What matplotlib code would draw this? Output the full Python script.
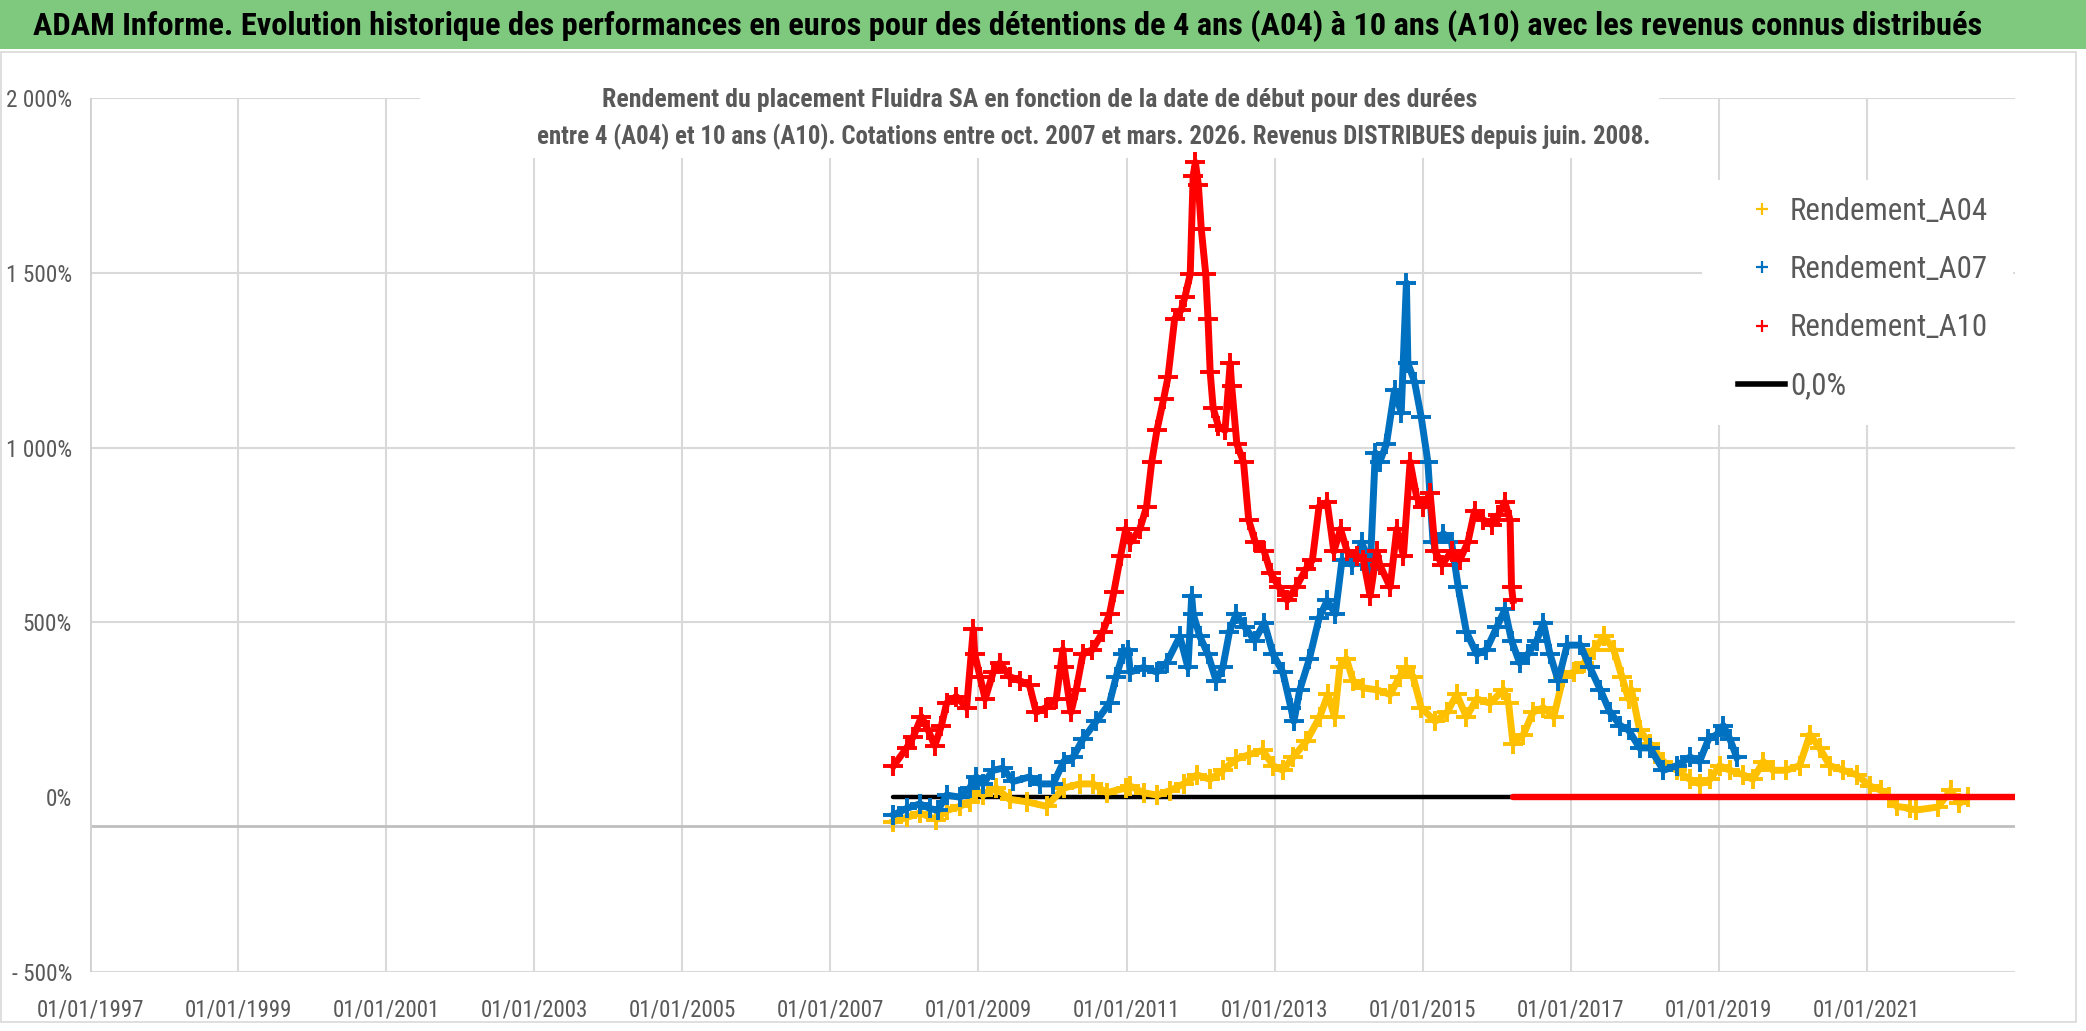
import matplotlib
matplotlib.use('Agg')
import matplotlib.pyplot as plt
from matplotlib import font_manager as fm
from matplotlib.patches import Rectangle
from matplotlib.lines import Line2D

# police etroite proche de Calibri si elle existe
family, stretch = 'DejaVu Sans', 'normal'
for name in ['Liberation Sans Narrow', 'Roboto Condensed', 'Open Sans Condensed', 'Noto Sans Condensed']:
    try:
        fm.findfont(fm.FontProperties(family=name), fallback_to_default=False)
        family = name
        break
    except ValueError:
        pass
if family == 'DejaVu Sans':
    if 'Condensed' in fm.findfont(fm.FontProperties(family='DejaVu Sans', stretch='condensed')):
        stretch = 'condensed'
plt.rcParams['font.family'] = [family, 'DejaVu Sans']
plt.rcParams['font.stretch'] = stretch

# dates de début (années décimales) et rendements en %
a04_x = [2007.85, 2008.03, 2008.21, 2008.43, 2008.57, 2008.75, 2008.88, 2008.97, 2009.06, 2009.24,
         2009.42, 2009.65, 2009.92, 2010.15, 2010.37, 2010.55, 2010.73, 2010.99, 2011.05, 2011.23,
         2011.41, 2011.59, 2011.77, 2011.95, 2012.13, 2012.30, 2012.48, 2012.66, 2012.84, 2012.98,
         2013.11, 2013.25, 2013.43, 2013.61, 2013.72, 2013.81, 2013.88, 2013.97, 2014.06, 2014.19,
         2014.38, 2014.56, 2014.69, 2014.78, 2014.87, 2014.98, 2015.17, 2015.33, 2015.46, 2015.59,
         2015.73, 2015.91, 2016.09, 2016.16, 2016.22, 2016.36, 2016.49, 2016.63, 2016.77, 2016.90,
         2017.04, 2017.18, 2017.31, 2017.45, 2017.58, 2017.69, 2017.78, 2017.82, 2017.93, 2018.07,
         2018.25, 2018.43, 2018.61, 2018.74, 2018.88, 2019.01, 2019.15, 2019.33, 2019.46, 2019.60,
         2019.73, 2019.91, 2020.09, 2020.23, 2020.36, 2020.50, 2020.68, 2020.86, 2021.04, 2021.19,
         2021.30, 2021.40, 2021.58, 2021.66, 2021.96, 2022.13, 2022.25, 2022.37]
a04_y = [-70, -58, -45, -64, -38, -26, -13, 19, 6, 26,
         -6, -13, -26, 26, 38, 38, 13, 26, 32, 13,
         6, 19, 38, 64, 51, 77, 109, 122, 134, 90,
         77, 115, 160, 230, 294, 230, 371, 396, 333, 313,
         307, 294, 345, 371, 345, 256, 217, 243, 294, 230,
         281, 269, 307, 269, 153, 179, 243, 256, 230, 345,
         358, 384, 422, 460, 422, 345, 281, 307, 192, 153,
         102, 77, 51, 38, 51, 90, 77, 64, 51, 102,
         77, 77, 90, 179, 141, 90, 77, 64, 32, 20,
         0, -26, -32, -37, -28, 20, -18, 0]

a07_x = [2007.85, 2008.03, 2008.21, 2008.34, 2008.45, 2008.57, 2008.75, 2008.88, 2008.97, 2009.06,
         2009.20, 2009.33, 2009.47, 2009.69, 2009.83, 2010.01, 2010.15, 2010.28, 2010.41, 2010.59,
         2010.77, 2010.86, 2010.95, 2011.02, 2011.05, 2011.23, 2011.41, 2011.54, 2011.72, 2011.83,
         2011.88, 2011.90, 2011.99, 2012.10, 2012.21, 2012.30, 2012.39, 2012.48, 2012.60, 2012.73,
         2012.86, 2012.98, 2013.11, 2013.22, 2013.26, 2013.34, 2013.47, 2013.60, 2013.71, 2013.82,
         2013.91, 2014.05, 2014.18, 2014.29, 2014.36, 2014.42, 2014.51, 2014.62, 2014.71, 2014.78,
         2014.80, 2014.89, 2014.98, 2015.07, 2015.14, 2015.28, 2015.39, 2015.48, 2015.59, 2015.73,
         2015.86, 2016.00, 2016.11, 2016.20, 2016.31, 2016.42, 2016.54, 2016.63, 2016.72, 2016.83,
         2016.95, 2017.13, 2017.26, 2017.40, 2017.53, 2017.67, 2017.78, 2017.93, 2018.07, 2018.25,
         2018.43, 2018.61, 2018.74, 2018.86, 2018.97, 2019.06, 2019.15, 2019.24]
a07_y = [-51, -32, -19, -32, -38, 6, 0, 26, 58, 38,
         77, 83, 45, 58, 38, 38, 102, 115, 166, 217,
         269, 345, 409, 422, 358, 371, 358, 384, 460, 371,
         575, 524, 460, 409, 333, 371, 473, 524, 486, 448,
         499, 409, 358, 256, 217, 307, 396, 512, 563, 524,
         678, 665, 729, 652, 985, 959, 1010, 1164, 1100, 1471,
         1241, 1189, 1087, 959, 729, 754, 729, 601, 473, 409,
         422, 486, 537, 448, 384, 409, 448, 499, 409, 333,
         435, 435, 371, 307, 243, 205, 192, 141, 141, 77,
         90, 115, 102, 166, 179, 205, 166, 115]

a10_x = [2007.85, 2008.03, 2008.12, 2008.23, 2008.32, 2008.41, 2008.50, 2008.57, 2008.70, 2008.84,
         2008.93, 2008.95, 2009.02, 2009.09, 2009.20, 2009.29, 2009.42, 2009.56, 2009.69, 2009.78,
         2009.91, 2010.05, 2010.14, 2010.16, 2010.25, 2010.32, 2010.41, 2010.54, 2010.68, 2010.77,
         2010.83, 2010.92, 2010.99, 2011.05, 2011.18, 2011.27, 2011.34, 2011.41, 2011.50, 2011.56,
         2011.65, 2011.74, 2011.79, 2011.86, 2011.90, 2011.93, 2011.97, 2012.01, 2012.07, 2012.10,
         2012.13, 2012.17, 2012.24, 2012.33, 2012.40, 2012.42, 2012.49, 2012.58, 2012.65, 2012.74,
         2012.86, 2012.95, 2013.06, 2013.17, 2013.29, 2013.42, 2013.51, 2013.60, 2013.71, 2013.80,
         2013.89, 2013.98, 2014.11, 2014.20, 2014.29, 2014.38, 2014.42, 2014.56, 2014.65, 2014.74,
         2014.83, 2014.92, 2015.01, 2015.10, 2015.17, 2015.26, 2015.39, 2015.50, 2015.61, 2015.70,
         2015.82, 2015.93, 2016.02, 2016.11, 2016.18, 2016.20, 2016.22]
a10_y = [89, 141, 173, 230, 192, 147, 205, 269, 288, 256,
         480, 409, 345, 281, 358, 384, 345, 333, 320, 243,
         256, 281, 422, 371, 243, 307, 409, 422, 473, 524,
         588, 691, 767, 729, 767, 831, 959, 1049, 1138, 1202,
         1369, 1394, 1432, 1496, 1778, 1816, 1752, 1624, 1496, 1369,
         1215, 1113, 1062, 1049, 1241, 1176, 1010, 959, 793, 729,
         703, 640, 601, 563, 601, 652, 678, 831, 844, 703,
         767, 703, 691, 678, 576, 703, 665, 601, 767, 691,
         959, 857, 831, 870, 703, 665, 703, 678, 729, 818,
         793, 780, 806, 844, 793, 601, 563]

# rendement nul : A10 au-dela de 2016, et serie de reference 0,0%
a10_zero_x = [2016.22, 2023.0]
a10_zero_y = [0, 0]
zero_x = [2007.85, 2023.0]
zero_y = [0, 0]

yticks = [2000, 1500, 1000, 500, 0, -500]
ylabels = ['2 000%', '1 500%', '1 000%', '500%', '0%', '- 500%']
xticks = list(range(1997, 2023, 2))
xlabels = ['01/01/%d' % y for y in xticks]
names = ['Rendement_A04', 'Rendement_A07', 'Rendement_A10', '0,0%']

title = 'ADAM Informe. Evolution historique des performances en euros pour des détentions de 4 ans (A04) à 10 ans (A10) avec les revenus connus distribués'
sub1 = 'Rendement du placement Fluidra SA en fonction de la date de début pour des durées'
sub2 = 'entre 4 (A04) et 10 ans (A10). Cotations entre oct. 2007 et mars. 2026. Revenus DISTRIBUES depuis juin. 2008.'

W, H = 2086, 1031
fig = plt.figure(figsize=(W / 100, H / 100), dpi=100)
renderer = fig.canvas.get_renderer()


def fit_size(s, target_px, weight='normal'):
    # taille de police (pt) donnant la largeur voulue en pixels
    t = fig.text(0, 0, s, fontsize=20, fontweight=weight)
    w = t.get_window_extent(renderer).width
    t.remove()
    return 20 * target_px / w


ax = fig.add_axes([90 / W, 1 - 972 / H, 1925 / W, 874 / H])

# bandeau vert du titre
fig.patches.append(Rectangle((0, 1 - 49 / H), 1, 49 / H, transform=fig.transFigure,
                             facecolor='#7FC97F', edgecolor='none', zorder=0))
fig.patches.append(Rectangle((1 / W, 1 - 1022 / H), 2075 / W, 970 / H, transform=fig.transFigure,
                             facecolor='none', edgecolor='#D9D9D9', lw=1.2, zorder=0))
fig.text(33 / W, 1 - 26 / H, title, fontsize=min(fit_size(title, 1949, 'bold'), 28),
         fontweight='bold', color='black', ha='left', va='center')

clr = '#595959'
sub_fs = min(fit_size(sub2, 1111, 'bold'), 20)
fig.text(1040 / W, 1 - 100 / H, sub1, fontsize=sub_fs * 1.04, fontweight='bold', color=clr, ha='center', va='center')
fig.text(1094 / W, 1 - 137 / H, sub2, fontsize=sub_fs, fontweight='bold', color=clr, ha='center', va='center')

ax.set_xlim(1997, 2023)
ax.set_ylim(-500, 2000)
ax.set_yticks(yticks)
ax.set_yticklabels(ylabels)
ax.set_xticks(xticks)
ax.set_xticklabels(xlabels)
ax.tick_params(axis='both', length=0, colors=clr)
ax.tick_params(axis='x', labelsize=min(fit_size(xlabels[0], 107), 22), pad=19)
ax.tick_params(axis='y', labelsize=min(fit_size(ylabels[0], 66), 20), pad=13)
for s in ax.spines.values():
    s.set_visible(False)
ax.set_axisbelow(True)
ax.grid(True, color='#D9D9D9', lw=1.5)
ax.yaxis.get_gridlines()[yticks.index(0)].set_visible(False)
ax.axhline(-83, color='#BFBFBF', lw=2, zorder=1)
ax.axvline(1997, color='#D0D0D0', lw=2, zorder=1)

# caches blancs derriere le sous-titre et la legende
ax.add_patch(Rectangle((420 / W, 1 - 158 / H), 1239 / W, 104 / H, transform=fig.transFigure,
                       facecolor='white', edgecolor='none', zorder=1.5, clip_on=False))
ax.add_patch(Rectangle((1702 / W, 1 - 425 / H), 311 / W, 245 / H, transform=fig.transFigure,
                       facecolor='white', edgecolor='none', zorder=1.5, clip_on=False))

ax.plot(zero_x, zero_y, color='black', lw=3.2, solid_capstyle='round', zorder=2)
ax.plot(a04_x, a04_y, color='#FFC000', lw=5, marker='+', ms=15, mew=2.8, zorder=3)
ax.plot(a07_x, a07_y, color='#0070C0', lw=5, marker='+', ms=15, mew=2.8, zorder=4)
ax.plot(a10_x, a10_y, color='#FF0000', lw=5, marker='+', ms=15, mew=2.8, zorder=5)
ax.plot(a10_zero_x, a10_zero_y, color='#FF0000', lw=4.6, solid_capstyle='round', zorder=5)

leg_fs = min(fit_size(names[0], 198), 25)
leg_px = leg_fs * 100 / 72
handles = [Line2D([], [], ls='none', marker='+', color='#FFC000', ms=8, mew=1.6),
           Line2D([], [], ls='none', marker='+', color='#0070C0', ms=8, mew=1.6),
           Line2D([], [], ls='none', marker='+', color='#FF0000', ms=8, mew=1.6),
           Line2D([], [], color='black', lw=4)]
ax.legend(handles, names, loc='upper left',
          bbox_to_anchor=(1738 / W, 1 - (211 - 0.45 * leg_px) / H), bbox_transform=fig.transFigure,
          frameon=False, fontsize=leg_fs, labelcolor=clr, handlelength=47 / leg_px,
          handletextpad=5 / leg_px, labelspacing=60 / leg_px - 1.0, borderpad=0, borderaxespad=0)

fig.savefig('out.png', dpi=100)
